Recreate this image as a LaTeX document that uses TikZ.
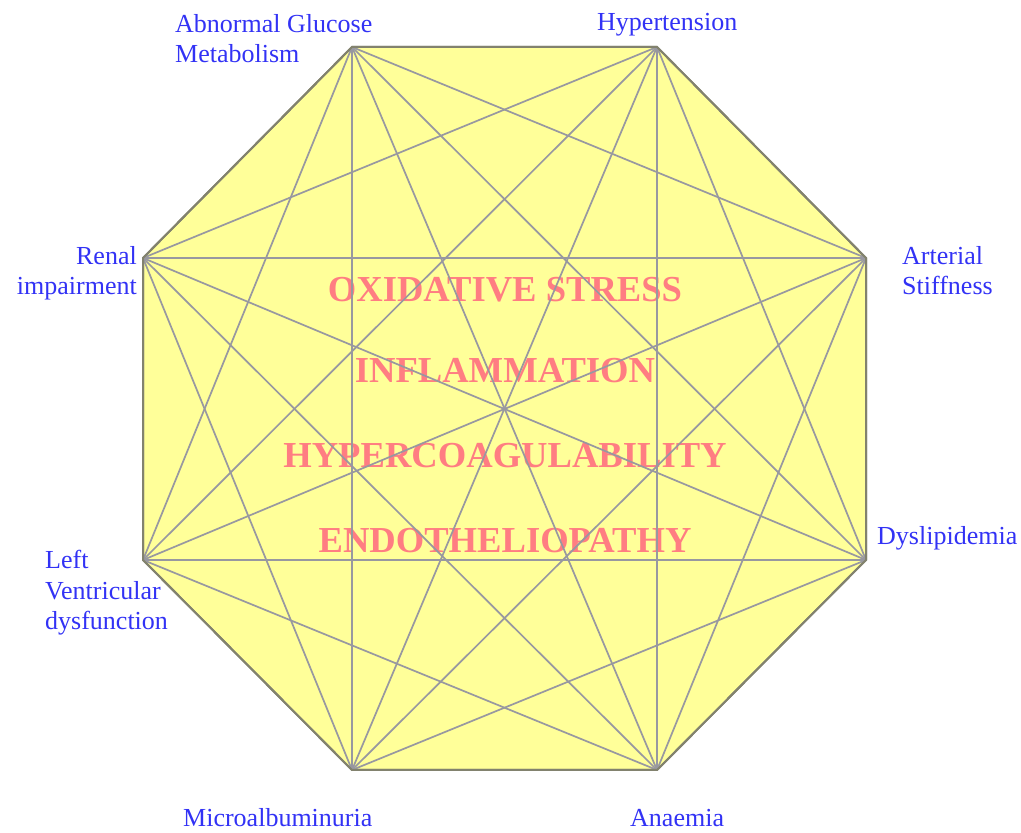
\documentclass[tikz,border=0pt]{standalone}
\usepackage{fontspec}
\setmainfont{Liberation Serif}
\begin{document}
\begin{tikzpicture}[x=1pt,y=1pt,
  lbl/.style={text=labelblue,font=\fontsize{26}{30.5}\selectfont,inner sep=0pt},
  big/.style={text=stresspink,font=\fontsize{36.6}{40}\selectfont\bfseries,inner sep=0pt,anchor=base},
  diag/.style={draw=diaggray,line width=1.7pt},
  rim/.style={draw=rimgray,line width=2pt,fill=octfill,line join=miter}]
\definecolor{labelblue}{RGB}{50,50,245}
\definecolor{stresspink}{RGB}{255,125,130}
\definecolor{diaggray}{RGB}{152,152,160}
\definecolor{rimgray}{RGB}{130,130,110}
\definecolor{octfill}{RGB}{255,255,153}
\useasboundingbox (0,0) rectangle (1021,833);
% vertices (image y flipped)
\coordinate (v1) at (352,786);
\coordinate (v2) at (657,786);
\coordinate (v3) at (866,575);
\coordinate (v4) at (866,273);
\coordinate (v5) at (657,63);
\coordinate (v6) at (352,63);
\coordinate (v7) at (143,273);
\coordinate (v8) at (143,575);
\path[rim] (v1) -- (v2) -- (v3) -- (v4) -- (v5) -- (v6) -- (v7) -- (v8) -- cycle;
% central texts
\node[big] (t1) at (505,531) {OXIDATIVE STRESS};
\node[big] (t2) at (505,450) {INFLAMMATION};
\node[big] (t3) at (505,365) {HYPERCOAGULABILITY};
\node[big] (t4) at (505,280) {ENDOTHELIOPATHY};
% diagonals
\foreach \a/\b in {1/3,1/4,1/5,1/6,1/7,2/4,2/5,2/6,2/7,2/8,3/5,3/6,3/7,3/8,4/6,4/7,4/8,5/7,5/8,6/8}
  \draw[diag] (v\a) -- (v\b);
\draw[rim,fill=none] (v1) -- (v2) -- (v3) -- (v4) -- (v5) -- (v6) -- (v7) -- (v8) -- cycle;
% labels (base anchor = baseline of last line)
\node[lbl,anchor=base west,align=left] (l1) at (175,770) {Abnormal Glucose\\Metabolism};
\node[lbl,anchor=base west] (l2) at (597,802) {Hypertension};
\node[lbl,anchor=base east,align=right] (l3) at (137,538) {Renal\\impairment};
\node[lbl,anchor=base west,align=left] (l4) at (902,538) {Arterial\\Stiffness};
\node[lbl,anchor=base west,align=left] (l5) at (45,203) {Left\\Ventricular\\dysfunction};
\node[lbl,anchor=base west] (l6) at (877,288) {Dyslipidemia};
\node[lbl,anchor=base west] (l7) at (183,6) {Microalbuminuria};
\node[lbl,anchor=base west] (l8) at (630,6) {Anaemia};
\end{tikzpicture}
\end{document}
